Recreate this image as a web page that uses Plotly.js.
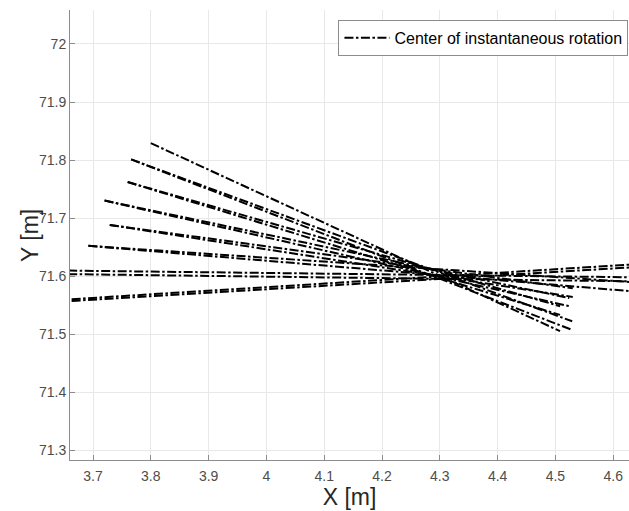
<!DOCTYPE html>
<html>
<head>
<meta charset="utf-8">
<script src="https://cdn.plot.ly/plotly-3.0.1.min.js"></script>
<style>html,body{margin:0;padding:0;background:#fff;}#chart{width:629px;height:511px;}</style>
</head>
<body>
<div id="chart"></div>
<script>
// Each segment: start (x,y) -> end (x,y)
const startX = [3.800, 3.766, 3.766, 3.760, 3.760, 3.720, 3.720, 3.729, 3.729, 3.692, 3.692, 3.600, 3.600, 3.663, 3.663];
const startY = [71.829, 71.801, 71.801, 71.762, 71.762, 71.730, 71.730, 71.688, 71.688, 71.652, 71.652, 71.610, 71.604, 71.560, 71.557];
const endX   = [4.508, 4.529, 4.529, 4.508, 4.508, 4.524, 4.524, 4.530, 4.530, 4.700, 4.700, 4.700, 4.700, 4.700, 4.700];
const endY   = [71.505, 71.507, 71.522, 71.533, 71.548, 71.548, 71.562, 71.564, 71.579, 71.568, 71.585, 71.597, 71.590, 71.624, 71.619];
const seriesName = "Center of instantaneous rotation";
const xTicks = [3.7, 3.8, 3.9, 4.0, 4.1, 4.2, 4.3, 4.4, 4.5, 4.6];
const yTicks = [71.3, 71.4, 71.5, 71.6, 71.7, 71.8, 71.9, 72.0];
const xTitle = "X [m]";
const yTitle = "Y [m]";

const traces = startX.map((sx, i) => ({
  type: "scatter",
  mode: "lines",
  x: [sx, endX[i]],
  y: [startY[i], endY[i]],
  name: seriesName,
  showlegend: i === 0,
  legendgroup: "cir",
  line: {color: "#000000", width: 2, dash: "9px,2.5px,2.5px,2.5px"},
  hoverinfo: "skip"
}));

const axisCommon = {
  showgrid: true,
  gridcolor: "#e8e8e8",
  gridwidth: 1,
  zeroline: false,
  showline: true,
  linecolor: "#8c8c8c",
  linewidth: 1,
  ticks: "inside",
  ticklen: 5,
  tickcolor: "#8c8c8c",
  tickfont: {family: "Liberation Sans, Arial, sans-serif", size: 14, color: "#4d4d4d"},
  tickmode: "array"
};

const layout = {
  width: 629,
  height: 511,
  margin: {l: 70, r: 0, t: 10, b: 51},
  paper_bgcolor: "#ffffff",
  plot_bgcolor: "#ffffff",
  font: {family: "Liberation Sans, Arial, sans-serif", color: "#262626"},
  xaxis: Object.assign({}, axisCommon, {
    range: [3.6602, 4.6273],
    tickvals: xTicks,
    ticktext: xTicks.map(v => String(v)),
    ticklabelstandoff: 3,
    title: {text: xTitle, font: {size: 23, color: "#262626"}, standoff: 2}
  }),
  yaxis: Object.assign({}, axisCommon, {
    range: [71.2828, 72.0586],
    tickvals: yTicks,
    ticktext: yTicks.map(v => String(v)),
    title: {text: ""}
  }),
  annotations: [{
    text: yTitle,
    xref: "paper", yref: "paper",
    x: 0, y: 0.4978,
    xanchor: "center", yanchor: "middle",
    xshift: -40,
    textangle: -90,
    showarrow: false,
    font: {family: "Liberation Sans, Arial, sans-serif", size: 23, color: "#262626"}
  }],
  showlegend: true,
  legend: {
    x: 0.999, xanchor: "right",
    y: 0.978, yanchor: "top",
    bgcolor: "#ffffff",
    bordercolor: "#8c8c8c",
    borderwidth: 1,
    font: {size: 16, color: "#000000"},
    itemwidth: 45
  }
};

Plotly.newPlot("chart", traces, layout, {staticPlot: true, displayModeBar: false});
</script>
</body>
</html>
